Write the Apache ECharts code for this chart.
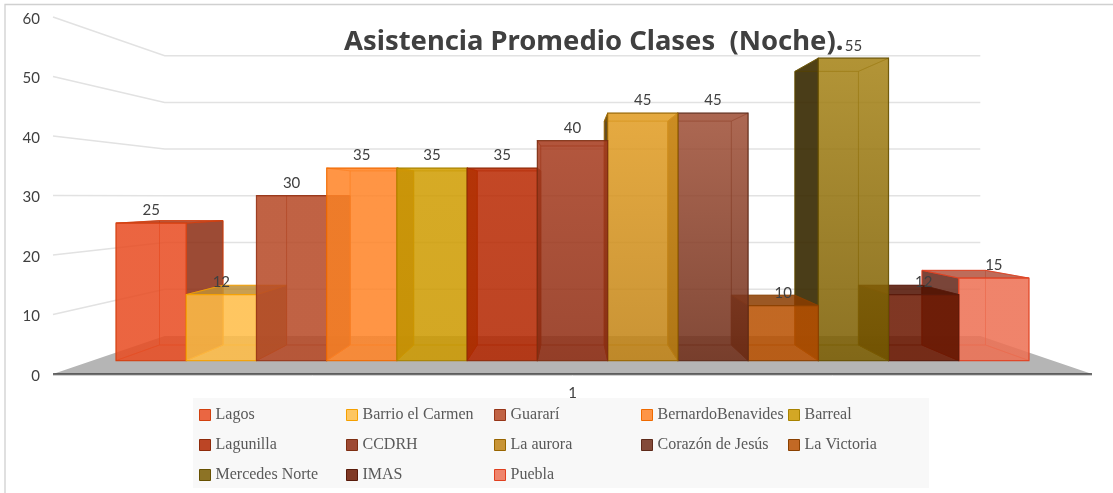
<!DOCTYPE html>
<html><head><meta charset="utf-8">
<style>html,body{margin:0;padding:0;background:#fff}#c{width:1113px;height:493px}</style>
<script src="https://cdn.jsdelivr.net/npm/echarts@6/dist/echarts.min.js"></script>
</head><body><div id="c"></div>
<script>
const titleText = 'Asistencia Promedio Clases  (Noche).';
const categories = ['1'];
const names = ['Lagos','Barrio el Carmen','Guararí','BernardoBenavides','Barreal','Lagunilla','CCDRH','La aurora','Corazón de Jesús','La Victoria','Mercedes Norte','IMAS','Puebla'];
const values = [25,12,30,35,35,35,40,45,45,10,55,12,15];
const ticks = [0,10,20,30,40,50,60];
const colors = ['#E84C22','#FFBD47','#B64926','#FF8427','#CC9900','#B22600','#8E2C12','#C08214','#6E2C17','#B85000','#7A5C00','#6B1700','#ED7053'];
const edges = ['#D2400F','#F5A000','#963619','#EF6A00','#A88200','#8E2A0A','#7E2E12','#986500','#5E2A1A','#8A4000','#665000','#581A0A','#E04020'];
const topLift = [1,1,1,1,1.02,1.04,1.15,1.17,1.35,1,1.3,1,1];

const K_FLOOR_BACK = 0.785, K_BAR_FRONT = 0.924, K_BAR_BACK = 0.836, HORIZON = 29.75, BAR_FRAC = 0.07315, ALPHA = 0.85;

function hex(c){return [1,3,5].map(i=>parseInt(c.substr(i,2),16));}
function rgba(c,a,shade,white){let v=hex(c).map(x=>Math.min(255,x*(shade==null?1:shade)));if(white)v=v.map(x=>x+(255-x)*white);return `rgba(${v.map(Math.round).join(',')},${a})`;}
function proj(api){
  const cx=api.coord([0,0])[0], vy=api.coord([0,HORIZON])[1];
  return (u,y,k)=>[cx+k*(u-cx),vy+k*(y-vy)];
}
function barItem(idx){
  return function(params,api){
    const P=proj(api), v=api.value(1), o=api.coord([0,0]), t=api.coord([0,v]), cx=o[0], vy=api.coord([0,HORIZON])[1];
    const w=api.size([1,0])[0]*BAR_FRAC, u0=cx+(idx-6.5)*w, u1=u0+w, y0=o[1], y1=t[1];
    const f=K_BAR_FRONT,b=K_BAR_BACK,col=colors[idx],ed=edges[idx];
    const poly=(pts,fill,stroke,lw)=>({type:'polygon',shape:{points:pts},style:{fill,stroke,lineWidth:lw}});
    const faint=rgba(col,0.07), thin=rgba(ed,0.45), strong=rgba(ed,0.85);
    const els=[];
    els.push(poly([P(u0,y1,b),P(u1,y1,b),P(u1,y0,b),P(u0,y0,b)],faint,thin,1));
    els.push(poly([P(u0,y0,f),P(u1,y0,f),P(u1,y0,b),P(u0,y0,b)],rgba(col,0.1),thin,1));
    const rightOuter=u1<cx, leftOuter=u0>cx, topOuter=y1>vy;
    els.push(poly([P(u1,y1,f),P(u1,y1,b),P(u1,y0,b),P(u1,y0,f)],rightOuter?rgba(col,ALPHA,0.6):faint,rightOuter?strong:thin,1));
    els.push(poly([P(u0,y1,f),P(u0,y1,b),P(u0,y0,b),P(u0,y0,f)],leftOuter?rgba(col,0.9,0.45):faint,leftOuter?strong:thin,1));
    els.push(poly([P(u0,y1,f),P(u1,y1,f),P(u1,y1,b),P(u0,y1,b)],topOuter?rgba(col,ALPHA,0.75):rgba(col,0.12),topOuter?strong:thin,1));
    const lift=topLift[idx];
    els.push(poly([P(u0,y1,f),P(u1,y1,f),P(u1,y0,f),P(u0,y0,f)],
      new echarts.graphic.LinearGradient(0,0,0,1,[{offset:0,color:rgba(col,ALPHA,lift,(lift-1)*0.3)},{offset:1,color:rgba(col,ALPHA)}]),strong,1.2));
    return {type:'group',children:els};
  };
}
const legendCols=[199,346,494,641,788], legendRows=[407,437,467];
const legends=names.map((n,i)=>({
  data:[{name:n,icon:'rect',itemStyle:{color:rgba(colors[i],ALPHA),borderColor:edges[i],borderWidth:1}}],
  left:legendCols[i%5], top:legendRows[Math.floor(i/5)], itemWidth:11,itemHeight:11,padding:0,itemGap:0,z:6,
  selectedMode:false,
  textStyle:{fontFamily:'Liberation Serif',fontSize:16,color:'#595959',padding:0}
}));

const chart=echarts.init(document.getElementById('c'),null,{renderer:'canvas'});
chart.setOption({
  animation:false,
  backgroundColor:'#fff',
  title:{text:titleText,left:344,top:23,padding:0,textStyle:{fontFamily:'Noto Sans',fontWeight:'bold',fontSize:27.4,color:'#404040',lineHeight:38},z:1},
  grid:{left:53,right:21,top:17,bottom:119},
  xAxis:{type:'category',data:categories,axisLine:{show:false},axisTick:{show:false},
    axisLabel:{margin:12,color:'#404040',fontFamily:'Lato',fontSize:15}},
  yAxis:{type:'value',min:0,max:60,interval:10,splitLine:{show:false},axisLine:{show:false},axisTick:{show:false},
    axisLabel:{margin:13,color:'#404040',fontFamily:'Lato',fontSize:15,verticalAlign:'top',lineHeight:4}},
  legend:legends,
  graphic:[
    {type:'rect',z:5,shape:{x:193,y:398,width:736,height:90},style:{fill:'#F8F8F8'}},
    {type:'polyline',z:0,shape:{points:[[5,493],[5,4.5],[1113,4.5]]},style:{fill:'none',stroke:'#D0D0D0',lineWidth:1.3}}
  ],
  series:[
    {type:'custom',name:'_walls',silent:true,z:1,legendHoverLink:false,data:[[0,0]],encode:{x:0,y:1},
      renderItem(params,api){
        const P=proj(api),o=api.coord([0,0]),band=api.size([1,0])[0],L=o[0]-band/2,R=o[0]+band/2,y0=o[1];
        const els=[{type:'polygon',shape:{points:[P(L,y0,1),P(L,y0,K_FLOOR_BACK),P(R,y0,K_FLOOR_BACK),P(R,y0,1)]},style:{fill:'#B5B5B5'}}];
        ticks.forEach(t=>{ if(t===0)return; const y=api.coord([0,t])[1];
          els.push({type:'polyline',shape:{points:[P(L,y,1),P(L,y,K_FLOOR_BACK),P(R,y,K_FLOOR_BACK)]},style:{fill:'none',stroke:'#E2E2E2',lineWidth:1.5}});});
        els.push({type:'line',shape:{x1:L,y1:y0+1.5,x2:R,y2:y0+1.5},style:{stroke:'#D0D0D0',lineWidth:1}});
        els.push({type:'line',shape:{x1:L,y1:y0,x2:R,y2:y0},style:{stroke:'#404040',lineWidth:1.6}});
        return {type:'group',children:els};
      }},
    ...names.map((n,i)=>({type:'custom',name:n,z:2+(6-Math.abs(i-6))*0.1+1,data:[[0,values[i]]],encode:{x:0,y:1},
      itemStyle:{color:rgba(colors[i],ALPHA)},renderItem:barItem(i)})),
    {type:'custom',name:'_labels',silent:true,z:10,data:values.map(v=>[0,v]),encode:{x:0,y:1},
      renderItem(params,api){
        const i=params.dataIndex,o=api.coord([0,0]),t=api.coord([0,api.value(1)]),vy=api.coord([0,HORIZON])[1];
        const w=api.size([1,0])[0]*BAR_FRAC,cx=o[0],u=cx+(i-6)*w;
        return {type:'text',style:{text:String(api.value(1)),x:cx+K_BAR_FRONT*(u-cx),y:vy+K_BAR_FRONT*(t[1]-vy)-12.5,align:'center',verticalAlign:'middle',
          font:'15px Lato',fill:'#404040'}};
      }}
  ]
});
</script></body></html>
